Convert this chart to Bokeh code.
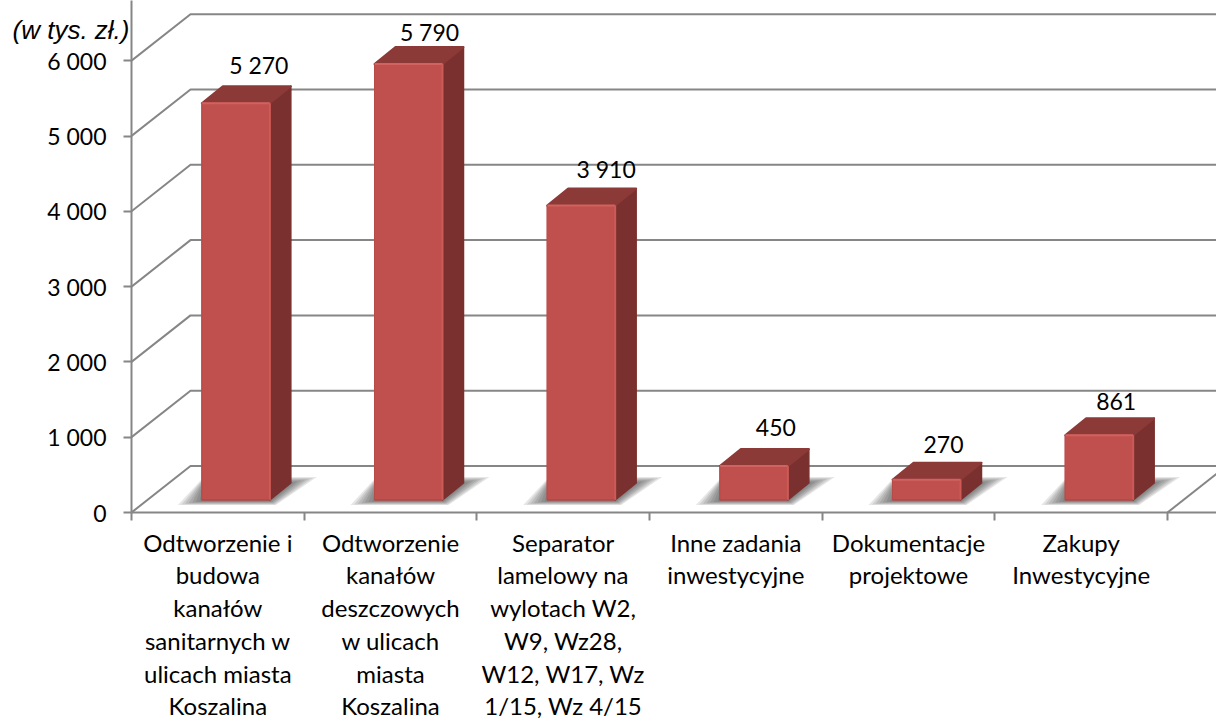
from bokeh.plotting import figure
from bokeh.models import FixedTicker, Label, Range1d
from bokeh.core.properties import value as V
from bokeh.embed import file_html
from bokeh.resources import INLINE

CATEGORIES = ["Odtworzenie i\nbudowa\nkanałów\nsanitarnych w\nulicach miasta\nKoszalina",
              "Odtworzenie\nkanałów\ndeszczowych\nw ulicach\nmiasta\nKoszalina",
              "Separator\nlamelowy na\nwylotach W2,\nW9, Wz28,\nW12, W17, Wz\n1/15, Wz 4/15",
              "Inne zadania\ninwestycyjne",
              "Dokumentacje\nprojektowe",
              "Zakupy\nInwestycyjne"]
VALUES = [5270, 5790, 3910, 450, 270, 861]
VALUE_LABELS = ["5 270", "5 790", "3 910", "450", "270", "861"]
Y_TICKS = [0, 1000, 2000, 3000, 4000, 5000, 6000]
Y_TICK_LABELS = ["0", "1 000", "2 000", "3 000", "4 000", "5 000", "6 000"]
UNIT_LABEL = "(w tys. zł.)"

# scale: data units per screen pixel
PX_X = 6 / 1036.0
PX_Y = 1000 / 75.3
FRAME_W, FRAME_H = 1085, 512

# 3-D projection
WALL_DX, WALL_DY = 59 * PX_X, 46.5 * PX_Y
BAR_W = 68 * PX_X
BAR_DX, BAR_DY = 21 * PX_X, 17 * PX_Y
BAR_FX, BAR_FY = 0.5 + 18 * PX_X, 12.5 * PX_Y

GRID = "#868686"
FRONT, TOP, SIDE = "#C0504D", "#8C3A38", "#7A302E"
FONT = "Lato"

p = figure(frame_width=FRAME_W, frame_height=FRAME_H, width=1216, height=720,
           x_range=Range1d(0, FRAME_W * PX_X), y_range=Range1d(0, FRAME_H * PX_Y),
           toolbar_location=None, output_backend="svg",
           min_border_left=131, min_border_right=0, min_border_top=0, min_border_bottom=150,
           outline_line_color=None)
p.grid.visible = False

# walls
xs, ys = [], []
for t in Y_TICKS:
    xs.append([0, WALL_DX, FRAME_W * PX_X])
    ys.append([t, t + WALL_DY, t + WALL_DY])
xs.append([6, 6 + WALL_DX])
ys.append([0, WALL_DY])
p.multi_line(xs, ys, line_color=GRID, line_width=2)

# floor shadows: nested translucent parallelograms imitate the blur
SHADOW_STEPS = [1.0, 0.85, 0.7, 0.55, 0.4, 0.25, 0.1]
for i in range(len(VALUES)):
    L = i + BAR_FX - BAR_W / 2
    R = L + BAR_W
    for g in SHADOW_STEPS:
        p.patch([L - 24 * g * PX_X, R + 6 * g * PX_X, R + BAR_DX + 26 * g * PX_X, L + 2 * PX_X],
                [BAR_FY - (1 + 4 * g) * PX_Y, BAR_FY - (1 + 4 * g) * PX_Y,
                 BAR_FY + BAR_DY + 6 * g * PX_Y, BAR_FY + BAR_DY + 6 * g * PX_Y],
                fill_color="#303030", fill_alpha=0.12, line_color=None)

# bars
for i, v in enumerate(VALUES):
    L = i + BAR_FX - BAR_W / 2
    R = L + BAR_W
    B = BAR_FY
    T = BAR_FY + v
    p.patch([R, R + BAR_DX, R + BAR_DX, R], [B, B + BAR_DY, T + BAR_DY, T],
            fill_color=SIDE, line_color=SIDE, line_width=1.5, line_join="round")
    p.patch([L, R, R + BAR_DX, L + BAR_DX], [T, T, T + BAR_DY, T + BAR_DY],
            fill_color=TOP, line_color=TOP, line_width=2, line_join="round")
    p.quad(left=L, right=R, bottom=B, top=T, fill_color=FRONT, line_color=FRONT, line_width=1)
    p.line([L, R], [T, T], line_color="#D0625F", line_width=2)
    p.line([R, R], [B, T], line_color="#CC5A57", line_width=2)
    p.line([L, L], [B, T], line_color="#B64B48", line_width=1)
    p.line([L, R], [B, B], line_color="#A84542", line_width=1)

# value labels
LABEL_DX = [23, 21, 25, 22, 17, 17]
LABEL_DY = [38, 32, 37, 39, 35, 34]
p.text([i + BAR_FX for i in range(6)], [BAR_FY + v for v in VALUES],
       text=VALUE_LABELS, x_offset=LABEL_DX, y_offset=[-d for d in LABEL_DY],
       text_align="center", text_baseline="middle",
       text_font=V(FONT), text_font_size="23px", text_color="#000000")

# axes
ax = p.yaxis[0]
ax.ticker = FixedTicker(ticks=Y_TICKS)
ax.major_label_overrides = {t: s for t, s in zip(Y_TICKS, Y_TICK_LABELS)}
ax.major_label_text_font = FONT
ax.major_label_text_font_size = "23px"
ax.major_label_text_color = "#000000"
ax.major_label_standoff = 17
ax.major_tick_in = 0
ax.major_tick_out = 8
ax.minor_tick_in = ax.minor_tick_out = 0
ax.axis_line_color = ax.major_tick_line_color = GRID
ax.axis_line_width = ax.major_tick_line_width = 2

bx = p.xaxis[0]
centers = [i + 0.5 for i in range(6)]
bx.ticker = FixedTicker(ticks=centers, minor_ticks=list(range(7)))
bx.major_label_overrides = {c: s for c, s in zip(centers, CATEGORIES)}
bx.major_label_text_font = FONT
bx.major_label_text_font_size = "24px"
bx.major_label_text_color = "#000000"
bx.major_label_text_line_height = 1.13
bx.major_label_standoff = 7
bx.major_tick_in = bx.major_tick_out = 0
bx.minor_tick_in = 0
bx.minor_tick_out = 8
bx.axis_line_color = bx.minor_tick_line_color = GRID
bx.axis_line_width = bx.minor_tick_line_width = 2

p.add_layout(Label(x=12, y=29, x_units="canvas", y_units="canvas",
                   text=UNIT_LABEL, text_font="Liberation Sans", text_font_style="italic",
                   text_font_size="26px", text_color="#000000",
                   text_baseline="middle", text_align="left"), "below")

open("out.html", "w").write(file_html(p, INLINE))
